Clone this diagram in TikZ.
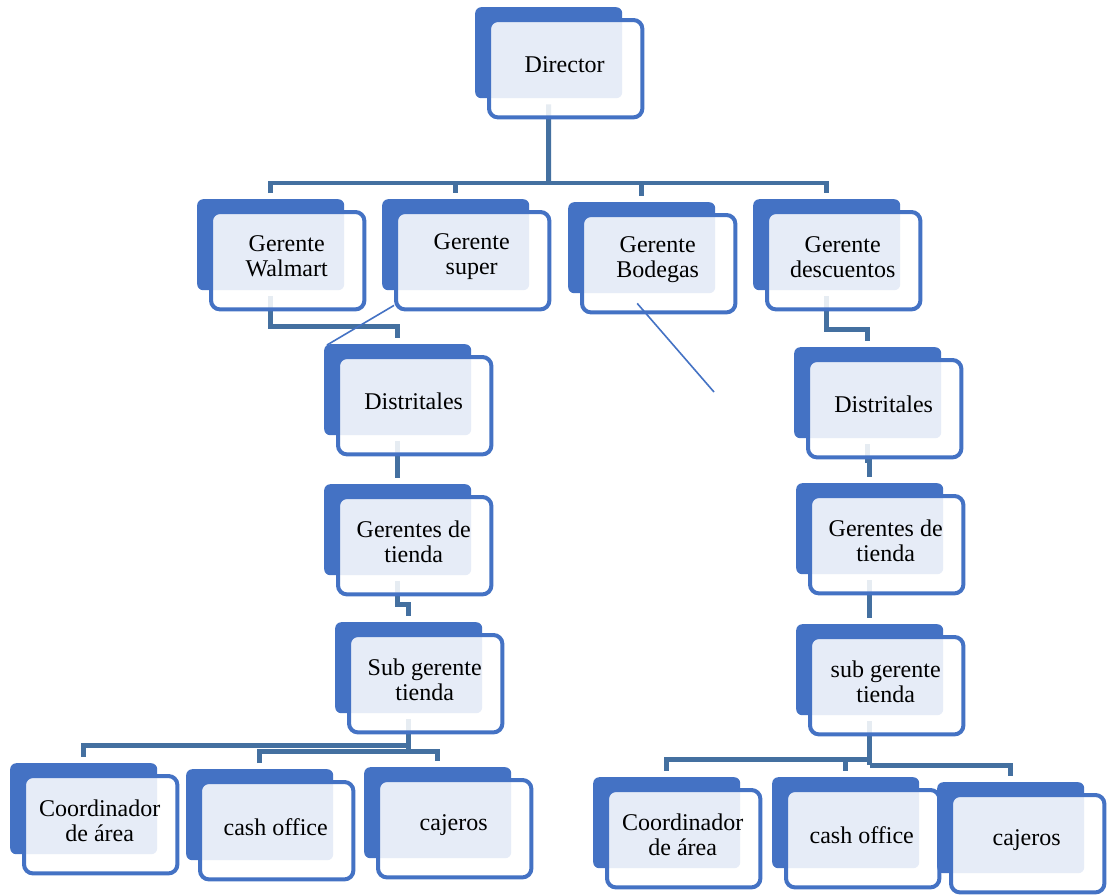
\documentclass[tikz,border=0pt]{standalone}
\usepackage{fontspec}
\setmainfont{Liberation Serif}
\usetikzlibrary{calc}
\definecolor{boxblue}{HTML}{4472C4}
\definecolor{connblue}{HTML}{4470A0}
\pgfdeclarelayer{bgzero}
\pgfdeclarelayer{conns}
\pgfsetlayers{bgzero,conns,main}
\tikzset{
  backbox/.style={fill=boxblue, draw=none, rounded corners=6pt, minimum width=147pt,
    minimum height=91pt, inner sep=0pt, anchor=north west},
  frontbox/.style={draw=boxblue, line width=4pt, fill=white, fill opacity=0.87, rounded corners=9pt},
  txt/.style={font=\fontsize{24}{25}\selectfont, align=center, inner sep=0pt, text=black},
  conn/.style={draw=connblue, line width=4.5pt},
  tobox/.style={shorten >=6pt},
  frombox/.style={shorten <=6pt},
  stray/.style={draw=boxblue, line width=1.6pt},
}
\newcommand{\orgbox}[4]{%
  \node[backbox] (#1) at (#2,#3) {};
  \draw[frontbox] ([xshift=14pt,yshift=-13pt]#1.north west) rectangle ([xshift=20pt,yshift=-19pt]#1.south east);
  \node[txt] (#1-t) at ([xshift=16pt,yshift=-12pt]#1.center) {#4};
}
\begin{document}
\begin{tikzpicture}[x=1pt,y=-1pt]
\useasboundingbox (0,0) rectangle (1107,895);
\begin{pgfonlayer}{bgzero}
  \fill[white] (0,0) rectangle (1107,895);
\end{pgfonlayer}

\orgbox{dir}{475}{7}{Director}
\orgbox{wal}{197}{199}{Gerente\\Walmart}
\orgbox{sup}{382}{199}{Gerente\\super}
\orgbox{bod}{568}{202}{Gerente\\Bodegas}
\orgbox{des}{753}{199}{Gerente\\descuentos}
\orgbox{disL}{324}{344}{Distritales}
\orgbox{gerL}{324}{484}{Gerentes de\\tienda}
\orgbox{subL}{335}{622}{Sub gerente\\tienda}
\orgbox{coL}{10}{763}{Coordinador\\de área}
\orgbox{caL}{186}{769}{cash office}
\orgbox{cjL}{364}{767}{cajeros}
\orgbox{disR}{794}{347}{Distritales}
\orgbox{gerR}{796}{483}{Gerentes de\\tienda}
\orgbox{subR}{796}{624}{sub gerente\\tienda}
\orgbox{coR}{593}{777}{Coordinador\\de área}
\orgbox{caR}{772}{777}{cash office}
\orgbox{cjR}{937}{782}{cajeros}

\begin{pgfonlayer}{conns}
  \coordinate (bar) at (548.5,183);
  \draw[conn, frombox, line width=5pt] (dir.south) -- (bar);
  \draw[conn, frombox, tobox] (wal.north) |- (bar) -| (des.north);
  \draw[conn, tobox] (sup.north |- bar) -- (sup.north);
  \draw[conn, tobox] (bod.north |- bar) -- (bod.north);
  % left column
  \draw[conn, frombox, tobox] (wal.south) -- ++(0,36) -| (disL.north);
  \draw[conn, frombox, tobox] (disL.south) -- (gerL.north);
  \draw[conn, frombox, tobox] (gerL.south) -- ++(0,29) -| (subL.north);
  \path (subL.south) ++(0,32) coordinate (jL1) ++(0,6) coordinate (jL2);
  \draw[conn, frombox] (subL.south) -- (jL2);
  \draw[conn, tobox] (jL1) -| (coL.north);
  \draw[conn, frombox, tobox] (caL.north) |- (jL2) -| (cjL.north);
  % right column
  \draw[conn, frombox, tobox] (des.south) -- ++(0,39) -| (disR.north);
  \draw[conn, frombox, tobox] (disR.south) -- ++(0,22) -| (gerR.north);
  \draw[conn, frombox, tobox] (gerR.south) -- (subR.north);
  \path (subR.south) ++(0,44) coordinate (jR1) ++(0,6) coordinate (jR2);
  \draw[conn, frombox] (subR.south) -- (jR2);
  \draw[conn, tobox] (jR2) -| (cjR.north);
  \draw[conn, tobox] (jR1) -| (coR.north);
  \draw[conn, tobox] (jR1 -| caR.north) -- (caR.north);
\end{pgfonlayer}

% stray thin lines
\draw[stray] ([xshift=12pt,yshift=-15pt]sup.south west) -- ([xshift=3pt,yshift=-1pt]disL.north west);
\coordinate (bodend) at (714,392);
\draw[stray] ([xshift=-4.5pt,yshift=-10pt]bod.south) -- (bodend);
\end{tikzpicture}
\end{document}
